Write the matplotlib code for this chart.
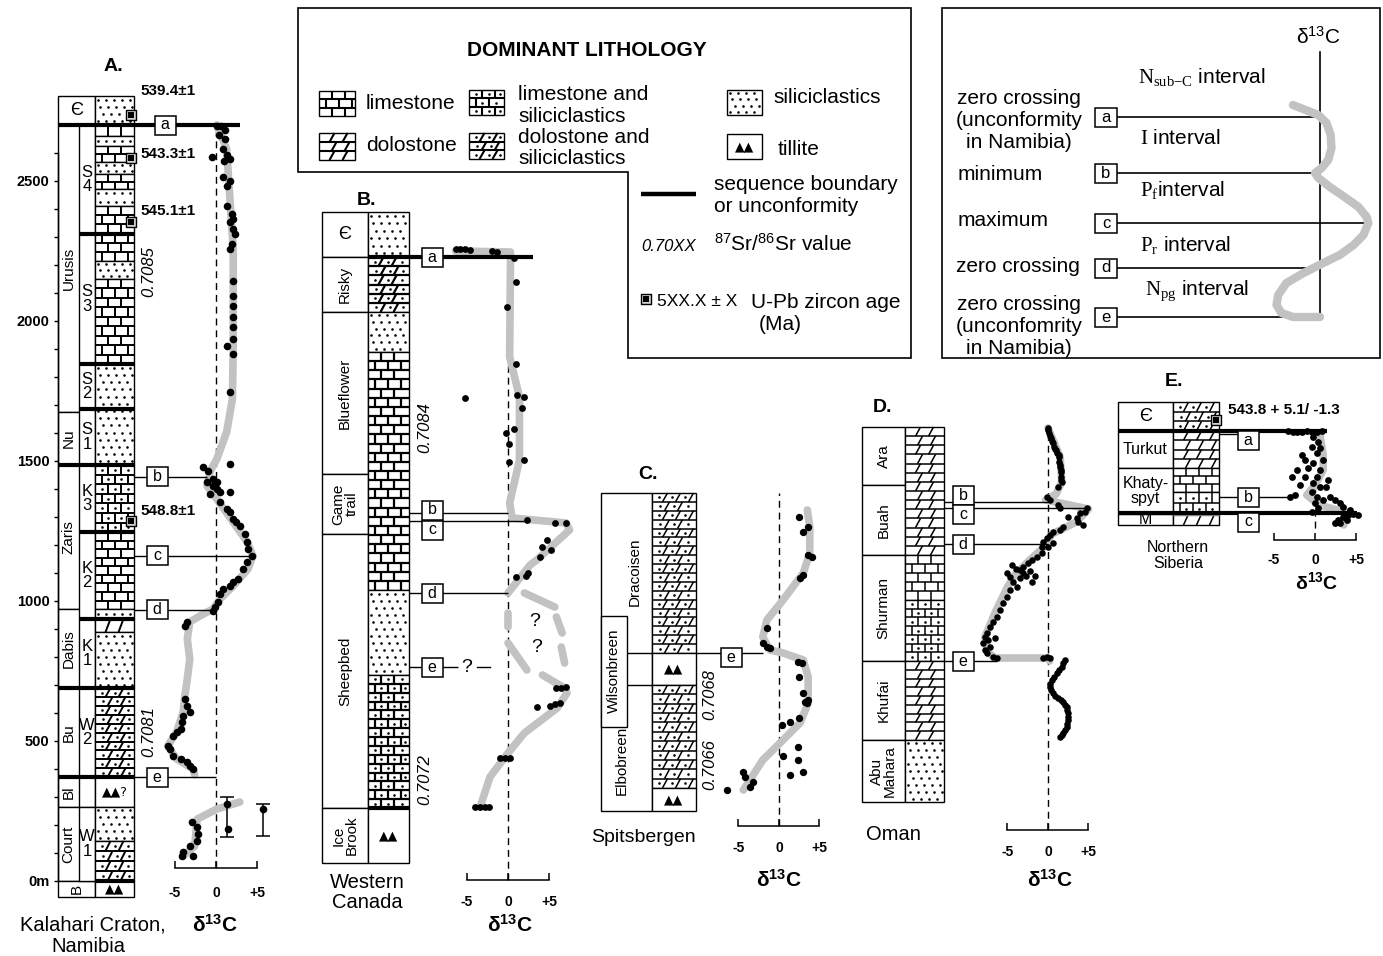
import numpy as np
import matplotlib
matplotlib.use("Agg")
import matplotlib.pyplot as plt
from matplotlib.patches import Rectangle, Polygon
from matplotlib.collections import LineCollection
from matplotlib.transforms import blended_transform_factory

plt.rcParams['font.family'] = ['Liberation Sans', 'DejaVu Sans']
plt.rcParams['mathtext.fontset'] = 'custom'
plt.rcParams['mathtext.rm'] = 'Liberation Sans'
plt.rcParams['mathtext.it'] = 'Liberation Sans:italic'
plt.rcParams['mathtext.bf'] = 'Liberation Sans:bold'
plt.rcParams['mathtext.sf'] = 'Liberation Serif'

# ============================ DATA ============================
# ---- A. Kalahari Craton, Namibia (height in m, d13C permil) ----
A_form_names = ['Є', 'Urusis', 'Nu', 'Zaris', 'Dabis', 'Bu', 'Bl', 'Court', 'B']
A_form_tops = [2804, 2700, 1675, 1486, 971, 689, 371, 264, 0]
A_form_base = -57
A_mem_names = ['S\n4', 'S\n3', 'S\n2', 'S\n1', 'K\n3', 'K\n2', 'K\n1', 'W\n2', '', 'W\n1']
A_mem_tops = [2700, 2311, 1846, 1686, 1486, 1246, 936, 689, 371, 264]
A_mem_base = 0
A_lith_tops = [2804, 2700, 2661, 2625, 2568, 2525, 2471, 2411, 2214, 2150, 1846,
               1486, 1246, 971, 936, 889, 689, 371, 264, 143, 0]
A_lith_kind = ['sil', 'lime', 'sil', 'lime', 'sil', 'lime', 'sil', 'lime', 'sil', 'lime', 'sil',
               'limesil', 'lime', 'sil', 'dolo', 'sil', 'dolosil', 'till', 'sil', 'dolosil', 'till']
A_lith_base = -57
A_seq_h = [2311, 1846, 1686, 1486, 1246, 936, 689, 371, 0]
A_levels = ['a', 'b', 'c', 'd', 'e']
A_level_h = [2700, 1443, 1161, 968, 371]
A_level_end = [2.9, -1.1, 4.5, 0.0, 0.0]
A_zircon_h = [2736, 2582, 2354, 1286]
A_zircon_lab = ['539.4±1', '543.3±1', '545.1±1', '548.8±1']
A_sr_h = [2175, 532]
A_sr_lab = ['0.7085', '0.7081']
A_pts = [(0.1, 2696), (0.6, 2696), (1.1, 2682), (0.4, 2664), (1.1, 2650), (0.85, 2614), (1.3, 2593),
         (1.0, 2571), (-0.5, 2586), (1.7, 2579), (0.85, 2514), (1.7, 2500), (1.3, 2482),
         (1.3, 2411), (2.0, 2382), (2.1, 2364), (1.7, 2354), (2.1, 2329), (2.3, 2311), (2.0, 2275), (1.7, 2257),
         (2.1, 2143), (2.1, 2089), (2.1, 2054), (2.1, 2014), (2.1, 1979), (2.1, 1936), (1.3, 1911), (2.1, 1882),
         (1.7, 1746), (1.7, 1489),
         (-1.6, 1479), (-1.0, 1464), (-0.4, 1436), (0.1, 1425), (-1.1, 1425), (-0.4, 1411), (0.1, 1400),
         (0.5, 1389), (1.7, 1389), (-0.7, 1382),
         (0.5, 1354), (1.3, 1329), (1.7, 1318), (2.1, 1293), (2.5, 1282), (2.9, 1268), (3.5, 1239), (3.8, 1211),
         (3.9, 1186), (4.4, 1161), (3.8, 1139), (3.3, 1114), (2.7, 1079), (2.1, 1068), (1.7, 1054), (0.85, 1043),
         (0.5, 1025), (0.3, 996), (-0.1, 979), (-0.4, 964),
         (-3.5, 925), (-3.8, 911),
         (-3.8, 650), (-3.5, 625), (-3.2, 604), (-4.0, 589), (-4.1, 568), (-4.3, 543), (-4.8, 532), (-5.2, 518),
         (-5.9, 482), (-5.6, 471), (-5.2, 446), (-4.3, 436), (-3.5, 425), (-3.2, 411), (-2.8, 400),
         (1.3, 275), (1.5, 186), (-2.9, 211), (-2.3, 193), (-2.2, 168), (-2.3, 143), (-3.2, 125), (-4.0, 104),
         (-4.1, 89), (-2.8, 89), (5.7, 257)]
A_trend_upper = [(0.1, 2700), (1.3, 2614), (1.7, 2436), (2.1, 2257), (2.1, 1900), (2.0, 1721), (1.3, 1604),
                 (0.1, 1507), (-0.7, 1464), (-1.1, 1411), (0.1, 1364), (2.1, 1282), (3.8, 1211), (4.5, 1161),
                 (3.9, 1114), (2.1, 1054), (0.5, 1007), (-0.4, 971), (-2.0, 946), (-3.2, 925), (-3.5, 864),
                 (-3.2, 793), (-3.5, 721), (-3.8, 661), (-4.0, 604), (-4.8, 532), (-5.9, 482), (-4.8, 436),
                 (-2.8, 400), (-2.6, 379)]
A_trend_lower = [(2.9, 282), (0.1, 257), (-2.3, 221), (-2.6, 125), (-4.0, 89)]
A_err_d13c = [1.3, 5.7]
A_err_lo = [157, 161]
A_err_hi = [300, 275]

# ---- B. Western Canada (relative height) ----
B_form_names = ['Є', 'Risky', 'Blueflower', 'Game\ntrail', 'Sheepbed', 'Ice\nBrook']
B_form_tops = [651, 606, 551, 389, 329, 55]
B_form_base = 0
B_lith_tops = [651, 606, 551, 511, 273, 188, 55]
B_lith_kind = ['sil', 'dolosil', 'sil', 'lime', 'sil', 'limesil', 'till']
B_lith_base = 0
B_levels = ['a', 'b', 'c', 'd', 'e']
B_level_h = [606, 350, 342, 270, 196]
B_box_h = [606, 353, 333, 270, 196]
B_level_end = [3.0, 0.0, 2.0, 0.0, None]
B_sr_h = [435, 83]
B_sr_lab = ['0.7084', '0.7072']
B_pts = [(-6.4, 614), (-5.8, 614), (-5.2, 614), (-4.6, 613), (-1.9, 612), (-1.3, 611), (0.7, 605), (1.0, 581),
         (-0.1, 556), (1.0, 499), (-5.2, 465), (1.1, 468), (2.0, 466), (1.7, 455), (0.7, 434), (-0.2, 430),
         (0.1, 419), (0.1, 401), (2.0, 403), (2.3, 343), (5.7, 340), (7.1, 340), (4.7, 323), (4.2, 316),
         (5.3, 313), (3.9, 306), (1.0, 286), (2.2, 287), (2.4, 290), (5.9, 175), (6.5, 175), (7.1, 176),
         (5.1, 157), (5.7, 159), (6.3, 160), (3.5, 156), (-1.0, 105), (-0.4, 105), (0.2, 105),
         (-4.0, 56), (-3.4, 56), (-2.8, 56), (-2.3, 56)]
B_trend_upper = [(-6.4, 612), (0.3, 611), (0.3, 600), (0.2, 506), (1.4, 466), (1.4, 403), (0.2, 360), (0.5, 345),
                 (7.1, 340), (7.5, 333), (3.5, 303), (2.7, 298), (0.0, 270)]
B_trend_uncertain = [[(0.0, 250), (0.0, 236)], [(0.0, 220), (2.3, 193)], [(2.0, 270), (5.7, 256)],
                     [(5.9, 246), (6.6, 230)], [(6.5, 216), (6.9, 200)]]
B_trend_lower = [(4.2, 188), (6.9, 175), (7.2, 170), (6.0, 155), (2.0, 130), (0.0, 110), (-2.2, 86), (-3.4, 56)]

# ---- C. Spitsbergen (relative height) ----
C_form_names = ['Dracoisen', 'Wilsonbreen', 'Elbobreen']
C_form_tops = [318, 158, 126]
C_form_base = 0
C_lith_tops = [318, 158, 126, 23]
C_lith_kind = ['dolosil', 'till', 'dolosil', 'till']
C_lith_base = 0
C_level_h = [158]
C_sr_h = [116, 46]
C_sr_lab = ['0.7068', '0.7066']
C_pts = [(2.5, 294), (3.6, 284), (3.0, 279), (3.6, 256), (4.1, 254), (3.0, 236), (2.6, 233), (-1.5, 183),
         (-2.0, 168), (-1.5, 164), (-1.1, 163), (2.3, 149), (2.8, 148), (2.5, 134), (3.0, 118), (3.6, 111),
         (3.5, 108), (3.2, 109), (2.5, 93), (1.4, 89), (0.4, 86), (2.3, 64), (0.5, 55), (2.3, 51), (3.0, 39),
         (1.4, 36), (-4.4, 39), (-4.2, 34), (-3.2, 29), (-3.6, 24), (-6.4, 21)]
C_trend = [(3.5, 301), (3.8, 284), (3.8, 258), (3.0, 238), (0.5, 211), (-1.5, 191), (-2.0, 174), (-1.1, 161),
           (0.5, 158), (3.0, 151), (3.6, 134), (3.6, 108), (2.6, 88), (0.5, 71), (-2.0, 51), (-4.4, 21)]

# ---- D. Oman (relative height) ----
D_form_names = ['Ara', 'Buah', 'Shurman', 'Khufai', 'Abu\nMahara']
D_form_tops = [375, 317, 247, 141, 62]
D_form_base = 0
D_lith_tops = [375, 247, 202, 141, 62]
D_lith_kind = ['dolo', 'lime', 'limesil', 'dolo', 'sil']
D_lith_base = 0
D_levels = ['b', 'c', 'd', 'e']
D_level_h = [300, 294, 258, 141]
D_box_h = [307, 288, 258, 141]
D_level_end = [0.0, 5.0, 0.0, -6.3]
D_pts = [(0.0, 374), (0.1, 369), (0.4, 364), (0.6, 359), (0.7, 355), (1.0, 352), (1.1, 349), (1.4, 345),
         (1.4, 340), (1.5, 335), (1.6, 330), (1.6, 325), (1.7, 320), (1.2, 315), (0.05, 372), (0.25, 366),
         (0.5, 361), (0.9, 353), (1.3, 347), (1.45, 337), (1.55, 332), (1.65, 322),
         (-0.1, 305), (0.2, 302), (1.2, 297), (1.5, 294), (4.8, 294), (4.6, 290), (4.0, 289), (2.5, 285),
         (3.6, 284), (3.7, 280), (4.3, 277), (1.9, 275), (1.5, 272), (0.6, 270), (0.2, 267), (-0.1, 264),
         (-0.6, 260), (-0.7, 255), (0.6, 259), (0.0, 255),
         (-0.7, 249), (-1.4, 245), (-2.0, 242), (-2.5, 239), (-3.1, 235), (-3.5, 232),
         (-4.4, 237), (-3.9, 233), (-3.1, 229), (-2.7, 226), (-2.2, 231), (-1.6, 226), (-2.0, 220), (-3.5, 224),
         (-5.1, 229), (-4.7, 225), (-4.3, 220), (-3.8, 215),
         (-4.7, 212), (-5.1, 205), (-5.6, 199), (-5.9, 192), (-6.3, 185), (-6.8, 180), (-7.2, 175), (-7.5, 169),
         (-7.8, 165), (-7.4, 162), (-8.0, 159), (-7.2, 155), (-7.8, 152), (-7.5, 149), (-6.8, 145), (-6.3, 144),
         (-6.5, 164), (-0.6, 144), (-0.1, 145), (0.2, 144),
         (2.1, 142), (1.9, 139), (1.7, 135), (1.4, 132), (1.1, 129), (0.8, 125), (0.5, 122), (0.3, 118),
         (0.2, 115), (0.4, 112), (0.6, 109), (0.9, 106), (1.2, 104), (1.6, 102), (1.9, 100), (2.1, 97),
         (2.3, 95), (2.4, 92), (2.5, 89), (2.5, 85), (2.5, 82), (2.4, 78), (2.3, 75), (2.1, 72), (1.9, 69),
         (1.7, 67), (1.5, 65)]
D_trend = [(0.0, 374), (1.5, 345), (1.7, 320), (1.0, 308), (-0.3, 302), (5.0, 293), (3.5, 280), (0.5, 268),
           (-0.5, 255), (-2.5, 240), (-4.0, 228), (-5.0, 215), (-6.5, 190), (-7.8, 165), (-7.5, 150),
           (-6.5, 144), (0.0, 144), (0.2, 141)]

# ---- E. Northern Siberia (relative height) ----
E_form_names = ['Є', 'Turkut', 'Khaty-\nspyt', 'M']
E_form_tops = [123, 94, 57, 11]
E_form_base = 0
E_lith_tops = [123, 94, 57, 33, 11]
E_lith_kind = ['dolosil', 'dolo', 'lime', 'limesil', 'dolo']
E_lith_base = 0
E_levels = ['a', 'b', 'c']
E_level_h = [94, 28, 12]
E_box_h = [85, 28, 3]
E_level_end = [1.5, -3.0, 5.1]
E_zircon_h = [105]
E_zircon_lab = ['543.8 + 5.1/ -1.3']
E_pts = [(-3.3, 94), (-2.7, 93), (-2.2, 93), (-1.6, 93), (-1.0, 94), (-0.4, 93), (0.2, 93), (0.9, 94),
         (-0.2, 88), (0.4, 83), (-0.4, 78), (0.6, 77), (0.2, 72), (1.0, 65), (-0.2, 62), (0.6, 55), (0.2, 48),
         (-0.2, 42), (0.6, 38), (-0.4, 33), (0.2, 28), (1.0, 25), (0.0, 22), (0.4, 17), (-0.4, 13),
         (-1.6, 70), (-1.2, 65), (-0.9, 57), (-2.2, 55), (-2.8, 48), (-1.2, 48), (-1.8, 40), (-2.4, 30),
         (1.6, 45), (1.4, 38), (1.8, 28), (2.4, 25), (3.0, 22), (3.4, 18), (4.3, 15), (-3.0, 28),
         (3.4, 8), (4.0, 10), (4.6, 11), (5.2, 10), (3.9, 5), (3.0, 2), (2.4, 2), (2.8, 5)]
E_trend = [(0.6, 90), (1.0, 70), (1.0, 55), (0.0, 40), (-1.0, 30), (0.5, 20), (4.0, 12), (3.5, 0)]

# ---- schematic inset ----
INS_levels = ['a', 'b', 'c', 'd', 'e']
INS_level_h = [200, 144, 94, 49, 0]
INS_curve = [(-3.3, 212), (-0.2, 202), (0.8, 194), (1.3, 182), (1.4, 169), (1.0, 157), (0.2, 149), (-0.6, 144),
             (-0.2, 139), (1.2, 130), (3.0, 120), (4.7, 110), (5.7, 100), (5.9, 94), (5.3, 82), (4.1, 72),
             (2.4, 62), (0.4, 54), (-2.0, 44), (-4.1, 34), (-5.1, 22), (-5.3, 12), (-4.7, 4), (-3.3, 0), (0.0, 0)]
DELTA_TICKS = [-5, 0, 5]
DELTA_TICKLABELS = ['-5', '0', '+5']

# ============================ LAYOUT ============================
W, H = 1383, 956
fig = plt.figure(figsize=(W / 100, H / 100), dpi=100)
ax0 = fig.add_axes([0, 0, 1, 1])
ax0.set_xlim(0, W)
ax0.set_ylim(H, 0)
ax0.axis('off')
GREY = '#c2c2c2'


def section(x0, sx, y0, sy):
    ax = fig.add_axes([0, 0, 1, 1])
    ax.set_xlim((0 - x0) / sx, (W - x0) / sx)
    ax.set_ylim((y0 - H) / sy, y0 / sy)
    ax.patch.set_visible(False)
    for s in ax.spines.values():
        s.set_visible(False)
    ax.set_xticks([])
    ax.set_yticks([])
    tr = blended_transform_factory(ax0.transData, ax.transData)
    return {'ax': ax, 'tr': tr, 'x0': x0, 'sx': sx, 'y0': y0, 'sy': sy}


def to_dx(S, px):
    return (px - S['x0']) / S['sx']


def to_h(S, py):
    return (S['y0'] - py) / S['sy']


def draw_lith(S, xl, xr, top, bot, kind, plw=1.2, mark=None):
    ax, tr, sy = S['ax'], S['tr'], S['sy']
    ax.add_patch(Rectangle((xl, bot), xr - xl, top - bot, transform=tr, fc='white', ec='black',
                           lw=1.0, zorder=2, clip_on=False))
    hpx = (top - bot) * sy
    segs, px_, py_ = [], [], []
    if kind in ('lime', 'limesil', 'dolo', 'dolosil'):
        n = max(1, int(round(hpx / 9.0)))
        rh = (top - bot) / n
        bw = 13.0
        for i in range(n):
            rt = top - i * rh
            rb = rt - rh
            if i > 0:
                segs.append([(xl, rt), (xr, rt)])
            if kind.startswith('lime'):
                xs = list(np.arange(xl + (bw / 2 if i % 2 else bw), xr - 3, bw))
                for x in xs:
                    segs.append([(x, rb), (x, rt)])
            else:
                xs = list(np.arange(xl + bw + (2.0 if i % 2 else 0.0), xr - 4, bw))
                for x in xs:
                    segs.append([(x - 2.5, rb), (x + 2.5, rt)])
            if kind.endswith('sil'):
                edges = [xl] + xs + [xr]
                for a, b in zip(edges[:-1], edges[1:]):
                    if b - a > 7:
                        px_.append((a + b) / 2)
                        py_.append((rb + rt) / 2)
    elif kind == 'sil':
        n = max(1, int(round(hpx / 7.0)))
        rh = (top - bot) / n
        for i in range(n):
            yc = top - (i + 0.5) * rh
            off = (0, 2.7, 5.3)[i % 3]
            for x in np.arange(xl + 2.5 + off, xr - 1.5, 8.0):
                px_.append(x)
                py_.append(yc)
    elif kind == 'till':
        ax.text((xl + xr) / 2, (top + bot) / 2, mark or '▲▲', transform=tr, ha='center', va='center',
                fontsize=9, family=['DejaVu Sans'], zorder=4)
    if segs:
        ax.add_collection(LineCollection(segs, colors='black', linewidths=plw, transform=tr,
                                         zorder=3, clip_on=False), autolim=False)
    if px_:
        ax.scatter(px_, py_, s=3.5, c='black', marker='o', linewidths=0, transform=tr, zorder=3, clip_on=False)


def draw_column(S, xl, xr, tops, base, kinds, plw=1.2, marks=None):
    for i, k in enumerate(kinds):
        bot = tops[i + 1] if i + 1 < len(tops) else base
        draw_lith(S, xl, xr, tops[i], bot, k, plw=plw, mark=(marks or {}).get(i))


def draw_boxes(S, xl, xr, names, tops, base, fs=11, rot=90, xcs=None):
    for i, nm in enumerate(names):
        top = tops[i]
        bot = tops[i + 1] if i + 1 < len(tops) else base
        S['ax'].add_patch(Rectangle((xl, bot), xr - xl, top - bot, transform=S['tr'], fc='white',
                                    ec='black', lw=1.0, zorder=2, clip_on=False))
        if nm:
            r = 0 if nm in ('Є',) else rot
            xc = xcs[i] if xcs else (xl + xr) / 2
            S['ax'].text(xc, (top + bot) / 2, nm, transform=S['tr'], rotation=r, ha='center',
                         va='center', fontsize=(13 if nm == 'Є' else fs), zorder=4, linespacing=0.95)


def level_box(S, letter, xc, hc, w=21, hp=19, fs=11.5):
    sy = S['sy']
    S['ax'].add_patch(Rectangle((xc - w / 2, hc - hp / 2 / sy), w, hp / sy, transform=S['tr'], fc='white',
                                ec='black', lw=1.1, zorder=7, clip_on=False))
    S['ax'].text(xc, hc, letter, transform=S['tr'], ha='center', va='center', fontsize=fs, zorder=8)


def hline_px(S, x1, x2, h, lw=1.0, color='black', z=4.5):
    S['ax'].plot([x1, x2], [h, h], color=color, lw=lw, transform=S['tr'], zorder=z, clip_on=False,
                 solid_capstyle='butt')


def hline_to_val(S, xpx, val, h, lw=1.0, z=4.5):
    S['ax'].plot([to_dx(S, xpx), val], [h, h], color='black', lw=lw, zorder=z, clip_on=False,
                 solid_capstyle='butt')


def band(S, pts, lw=5.5):
    a = np.array(pts, dtype=float)
    S['ax'].plot(a[:, 0], a[:, 1], color=GREY, lw=lw, solid_capstyle='round', solid_joinstyle='round',
                 zorder=3, clip_on=False)


def dots(S, pts, s=26):
    a = np.array(pts, dtype=float)
    S['ax'].scatter(a[:, 0], a[:, 1], s=s, c='black', linewidths=0, zorder=5, clip_on=False)


def zero_line(S, h_top, h_bot):
    S['ax'].plot([0, 0], [h_bot, h_top], color='black', lw=1.0, ls=(0, (5, 3.5)), zorder=2.5, clip_on=False)


def scale_bar(S, y_px, pad, fs=10):
    ax = S['ax']
    sp = ax.spines['bottom']
    sp.set_visible(True)
    sp.set_position(('data', to_h(S, y_px)))
    sp.set_bounds(DELTA_TICKS[0], DELTA_TICKS[-1])
    sp.set_linewidth(1.1)
    ax.set_xticks(DELTA_TICKS)
    ax.set_xticklabels(DELTA_TICKLABELS)
    ax.tick_params(axis='x', direction='in', length=5, width=1.1, pad=pad, labelsize=fs)
    for t in ax.get_xticklabels():
        t.set_fontweight('bold')


def zircon(S, xpx, h):
    S['ax'].scatter([xpx], [h], s=55, marker='s', facecolor='#d0d0d0', edgecolor='black', linewidths=1.0,
                    transform=S['tr'], zorder=8, clip_on=False)
    S['ax'].scatter([xpx], [h], s=14, marker='s', c='black', linewidths=0, transform=S['tr'], zorder=9,
                    clip_on=False)


def sr_text(S, xpx, h, lab):
    S['ax'].text(xpx, h, lab, transform=S['tr'], rotation=90, ha='center', va='center', fontsize=12,
                 style='italic', zorder=4)


def d13c_label(x, y, fs=15):
    ax0.text(x, y, 'δ$^{\\mathbf{13}}$C', ha='center', va='center', fontsize=fs, fontweight='bold')


TITLE_FS = 14

# ---------------- Legend box ----------------
ax0.add_patch(Polygon([(298, 8), (911, 8), (911, 358), (628, 358), (628, 172), (298, 172)], closed=True,
                      fc='white', ec='black', lw=1.2))
ax0.text(587, 50, 'DOMINANT LITHOLOGY', ha='center', va='center', fontsize=15, fontweight='bold')
SL = section(0, 1.0, H, 1.0)
for (xl, xr, yt, yb, kind) in [(319, 355, 91, 116, 'lime'), (469, 504, 90, 115, 'limesil'),
                                (319, 355, 133, 160, 'dolo'), (469, 504, 133, 159, 'dolosil'),
                                (727, 762, 90, 115, 'sil'), (727, 762, 134, 159, 'till')]:
    draw_lith(SL, xl, xr, to_h(SL, yt), to_h(SL, yb), kind, plw=1.5)
LEG_FS = 15
ax0.text(366, 103, 'limestone', ha='left', va='center', fontsize=LEG_FS)
ax0.text(518, 94, 'limestone and', ha='left', va='center', fontsize=LEG_FS)
ax0.text(518, 116, 'siliciclastics', ha='left', va='center', fontsize=LEG_FS)
ax0.text(366, 145, 'dolostone', ha='left', va='center', fontsize=LEG_FS)
ax0.text(518, 137, 'dolostone and', ha='left', va='center', fontsize=LEG_FS)
ax0.text(518, 158, 'siliciclastics', ha='left', va='center', fontsize=LEG_FS)
ax0.text(773, 97, 'siliciclastics', ha='left', va='center', fontsize=LEG_FS)
ax0.text(778, 149, 'tillite', ha='left', va='center', fontsize=LEG_FS)
ax0.plot([641, 696], [194, 194], color='black', lw=3.2, solid_capstyle='butt')
ax0.text(714, 184, 'sequence boundary', ha='left', va='center', fontsize=LEG_FS)
ax0.text(714, 206, 'or unconformity', ha='left', va='center', fontsize=LEG_FS)
ax0.text(641, 246, '0.70XX', ha='left', va='center', fontsize=12, style='italic')
ax0.text(714, 244, '$^{87}$Sr/$^{86}$Sr value', ha='left', va='center', fontsize=LEG_FS)
zircon(SL, 646, to_h(SL, 299))
ax0.text(657, 302, '5XX.X ± X', ha='left', va='center', fontsize=12.5)
ax0.text(751, 302, 'U-Pb zircon age', ha='left', va='center', fontsize=LEG_FS)
ax0.text(780, 324, '(Ma)', ha='center', va='center', fontsize=LEG_FS)

# ---------------- Schematic inset ----------------
ax0.add_patch(Rectangle((942, 8), 438, 350, fc='white', ec='black', lw=1.2))
SI = section(1320, 8.2, 317, 1.0)
SI['ax'].plot([0, 0], [0, to_h(SI, 52)], color='black', lw=1.2, zorder=2)
for lt, h in zip(INS_levels, INS_level_h):
    if lt == 'c':
        hline_px(SI, 1117, 1370, h, lw=1.2, z=2)
    else:
        SI['ax'].plot([to_dx(SI, 1117), 0], [h, h], color='black', lw=1.2, zorder=2)
    level_box(SI, lt, 1106, h, w=22, hp=19, fs=12)
band(SI, INS_curve, lw=6)
ax0.text(1318, 37, 'δ$^{13}$C', ha='center', va='center', fontsize=15)
IN_FS = 15
for y, t in [(98, 'zero crossing'), (120, '(unconformity'), (142, 'in Namibia)'),
             (305, 'zero crossing'), (327, '(unconfomrity'), (349, 'in Namibia)')]:
    ax0.text(1019, y, t, ha='center', va='center', fontsize=IN_FS)
ax0.text(958, 174, 'minimum', ha='left', va='center', fontsize=IN_FS)
ax0.text(958, 220, 'maximum', ha='left', va='center', fontsize=IN_FS)
ax0.text(956, 267, 'zero crossing', ha='left', va='center', fontsize=IN_FS)
ax0.text(1138, 78, r'$\mathsf{N}_{\mathsf{sub{-}C}}$ interval', ha='left', va='center', fontsize=IN_FS)
ax0.text(1140, 138, r'$\mathsf{I}$ interval', ha='left', va='center', fontsize=IN_FS)
ax0.text(1140, 191, r'$\mathsf{P}_{\mathsf{f}}$interval', ha='left', va='center', fontsize=IN_FS)
ax0.text(1140, 246, r'$\mathsf{P}_{\mathsf{r}}$ interval', ha='left', va='center', fontsize=IN_FS)
ax0.text(1145, 291, r'$\mathsf{N}_{\mathsf{pg}}$ interval', ha='left', va='center', fontsize=IN_FS)

# ---------------- Section A ----------------
SA = section(216, 8.2, 881, 0.28)
axA = SA['ax']
A_xcs = [76.5 if (nm in ('Є', 'B')) else 68.5 for nm in A_form_names]
draw_boxes(SA, 58, 95, A_form_names, A_form_tops, A_form_base, fs=11, xcs=A_xcs)
draw_boxes(SA, 79, 95, A_mem_names, A_mem_tops, A_mem_base, fs=12, rot=0)
draw_column(SA, 95, 134, A_lith_tops, A_lith_base, A_lith_kind, plw=1.4, marks={17: '▲▲?'})
A_seq_x = [79, 79, 79, 58, 79, 79, 58, 58, 95]
for h, xl in zip(A_seq_h, A_seq_x):
    hline_px(SA, xl, 134, h, lw=3.0, z=4)
A_box_x = [165, 157, 157, 157, 157]
for lt, h, end, bx in zip(A_levels, A_level_h, A_level_end, A_box_x):
    if lt == 'a':
        hline_px(SA, 58, bx - 10, h, lw=3.0)
        hline_to_val(SA, bx + 10, end, h, lw=3.0)
    else:
        hline_px(SA, 134, bx - 10, h, lw=1.0)
        hline_to_val(SA, bx + 10, end, h, lw=1.0)
    level_box(SA, lt, bx, h)
zero_line(SA, A_level_h[0], to_h(SA, 868))
band(SA, A_trend_upper)
band(SA, A_trend_lower)
dots(SA, A_pts, s=30)
for x, lo, hi in zip(A_err_d13c, A_err_lo, A_err_hi):
    axA.errorbar([x], [(lo + hi) / 2], yerr=[[(hi - lo) / 2], [(hi - lo) / 2]], fmt='none', ecolor='black',
                 elinewidth=1.1, capsize=5, capthick=1.1, zorder=5)
A_zlab_dy = [-24, -4, -11, -10]
for h, lab, dy in zip(A_zircon_h, A_zircon_lab, A_zlab_dy):
    zircon(SA, 131, h)
    axA.text(140, h - dy / SA['sy'], lab, transform=SA['tr'], ha='left', va='center', fontsize=11,
             fontweight='bold', zorder=9)
for h, lab in zip(A_sr_h, A_sr_lab):
    sr_text(SA, 149, h, lab)
sp = axA.spines['left']
sp.set_visible(True)
sp.set_position(('data', to_dx(SA, 58)))
sp.set_bounds(0, 2600)
sp.set_linewidth(1.0)
axA.set_yticks([0, 500, 1000, 1500, 2000, 2500])
axA.set_yticklabels(['0m', '500', '1000', '1500', '2000', '2500'])
axA.set_yticks([h for h in range(100, 2700, 100) if h % 500], minor=True)
axA.tick_params(axis='y', which='both', direction='out', length=3, width=1.0, pad=3, labelsize=10.5)
for t in axA.get_yticklabels():
    t.set_fontweight('bold')
scale_bar(SA, 868, pad=13)
ax0.text(113, 66, 'A.', ha='center', va='center', fontsize=TITLE_FS, fontweight='bold')
ax0.text(93, 925, 'Kalahari Craton,', ha='center', va='center', fontsize=14.5)
ax0.text(88, 946, 'Namibia', ha='center', va='center', fontsize=14.5)
d13c_label(215, 925)

# ---------------- Section B ----------------
SB = section(508, 8.2, 863, 1.0)
axB = SB['ax']
draw_boxes(SB, 322, 368, B_form_names, B_form_tops, B_form_base, fs=11)
draw_column(SB, 368, 409, B_lith_tops, B_lith_base, B_lith_kind, plw=1.6)
hline_px(SB, 368, 409, B_lith_tops[-1], lw=3.0, z=4)
for i, (lt, h, bh, end) in enumerate(zip(B_levels, B_level_h, B_box_h, B_level_end)):
    if lt == 'a':
        hline_px(SB, 368, 422, h, lw=3.0)
        hline_to_val(SB, 442, end, h, lw=3.0)
    else:
        hline_px(SB, 409, 422, h)
        if end is not None:
            hline_to_val(SB, 442, end, h)
    level_box(SB, lt, 432, bh)
# level e: uncertain correlation
hline_px(SB, 442, 458, B_level_h[4])
axB.text(-5.0, B_level_h[4], '?', ha='center', va='center', fontsize=14, zorder=6)
axB.plot([-3.8, -2.2], [B_level_h[4], B_level_h[4]], color='black', lw=1.0, zorder=4.5)
zero_line(SB, B_level_h[0], to_h(SB, 880))
band(SB, B_trend_upper)
for seg in B_trend_uncertain:
    band(SB, seg)
band(SB, B_trend_lower)
axB.text(3.3, 241, '?', ha='center', va='center', fontsize=14, zorder=6)
axB.text(3.5, 216, '?', ha='center', va='center', fontsize=14, zorder=6)
dots(SB, B_pts, s=24)
for h, lab in zip(B_sr_h, B_sr_lab):
    sr_text(SB, 425, h, lab)
scale_bar(SB, 880, pad=11)
ax0.text(366, 200, 'B.', ha='center', va='center', fontsize=TITLE_FS, fontweight='bold')
ax0.text(367, 882, 'Western', ha='center', va='center', fontsize=14.5)
ax0.text(367, 903, 'Canada', ha='center', va='center', fontsize=14.5)
d13c_label(510, 925)

# ---------------- Section C ----------------
SC = section(779, 8.1, 811, 1.0)
axC = SC['ax']
tr = SC['tr']
axC.add_patch(Rectangle((601, C_form_base), 51, C_form_tops[0] - C_form_base, transform=tr, fc='white',
                        ec='black', lw=1.0, zorder=2, clip_on=False))
axC.add_patch(Rectangle((601, to_h(SC, 727)), 26, to_h(SC, 616) - to_h(SC, 727), transform=tr, fc='white',
                        ec='black', lw=1.0, zorder=2.2, clip_on=False))
for h in C_form_tops[1:]:
    hline_px(SC, 627, 652, h, lw=1.0, z=2.3)
axC.text(635, 239, C_form_names[0], transform=tr, rotation=90, ha='center', va='center', fontsize=11, zorder=4)
axC.text(614, to_h(SC, 671), C_form_names[1], transform=tr, rotation=90, ha='center', va='center',
         fontsize=11, zorder=4)
axC.text(622, 51, C_form_names[2], transform=tr, rotation=90, ha='center', va='center', fontsize=11, zorder=4)
draw_column(SC, 652, 696, C_lith_tops, C_lith_base, C_lith_kind, plw=1.1)
hline_px(SC, 696, 721, C_level_h[0])
hline_to_val(SC, 741, -2.0, C_level_h[0])
level_box(SC, 'e', 731, to_h(SC, 657))
zero_line(SC, C_lith_tops[0], to_h(SC, 826))
band(SC, C_trend)
dots(SC, C_pts, s=28)
for h, lab in zip(C_sr_h, C_sr_lab):
    sr_text(SC, 710, h, lab)
scale_bar(SC, 826, pad=11)
ax0.text(648, 474, 'C.', ha='center', va='center', fontsize=TITLE_FS, fontweight='bold')
ax0.text(591, 838, 'Spitsbergen', ha='left', va='center', fontsize=14)
d13c_label(779, 880)

# ---------------- Section D ----------------
SD = section(1048, 8.1, 802, 1.0)
axD = SD['ax']
draw_boxes(SD, 862, 905, D_form_names, D_form_tops, D_form_base, fs=11)
draw_column(SD, 905, 944, D_lith_tops, D_lith_base, D_lith_kind, plw=1.1)
for lt, h, bh, end in zip(D_levels, D_level_h, D_box_h, D_level_end):
    hline_px(SD, 944, 953, h)
    hline_to_val(SD, 973, end, h)
    level_box(SD, lt, 963, bh)
zero_line(SD, 372, to_h(SD, 830))
band(SD, D_trend)
dots(SD, D_pts, s=22)
scale_bar(SD, 830, pad=11)
ax0.text(883, 407, 'D.', ha='center', va='center', fontsize=TITLE_FS, fontweight='bold')
ax0.text(893, 835, 'Oman', ha='center', va='center', fontsize=14.5)
d13c_label(1050, 880)

# ---------------- Section E ----------------
SE = section(1315, 8.2, 525, 1.0)
axE = SE['ax']
draw_boxes(SE, 1118, 1173, E_form_names, E_form_tops, E_form_base, fs=11.5, rot=0)
draw_column(SE, 1173, 1219, E_lith_tops, E_lith_base, E_lith_kind, plw=1.1)
hline_px(SE, 1173, 1219, E_lith_tops[-1], lw=2.5, color='#888888', z=3.5)
# a: thick boundary + thin connector to box
axE.plot([to_dx(SE, 1118), E_level_end[0]], [E_level_h[0], E_level_h[0]], color='black', lw=3.0,
         zorder=4.2, solid_capstyle='butt')
hline_px(SE, 1219, 1237, to_h(SE, 434))
level_box(SE, 'a', 1248, E_box_h[0])
# b
hline_px(SE, 1219, 1237, E_level_h[1])
hline_to_val(SE, 1259, E_level_end[1], E_level_h[1])
level_box(SE, 'b', 1248, E_box_h[1])
# c: thick boundary
axE.plot([to_dx(SE, 1118), E_level_end[2]], [E_level_h[2], E_level_h[2]], color='black', lw=3.0,
         zorder=4.2, solid_capstyle='butt')
level_box(SE, 'c', 1248, E_box_h[2])
zero_line(SE, 40, to_h(SE, 528))
band(SE, E_trend)
dots(SE, E_pts, s=24)
for h, lab in zip(E_zircon_h, E_zircon_lab):
    zircon(SE, 1216, h)
    axE.text(1228, h + 10, lab, transform=SE['tr'], ha='left', va='center', fontsize=11, fontweight='bold')
scale_bar(SE, 540, pad=9)
ax0.text(1174, 382, 'E.', ha='center', va='center', fontsize=TITLE_FS, fontweight='bold')
ax0.text(1178, 548, 'Northern', ha='center', va='center', fontsize=11.5)
ax0.text(1178, 564, 'Siberia', ha='center', va='center', fontsize=11.5)
d13c_label(1317, 582, fs=14)

fig.savefig('out.png', dpi=100)
